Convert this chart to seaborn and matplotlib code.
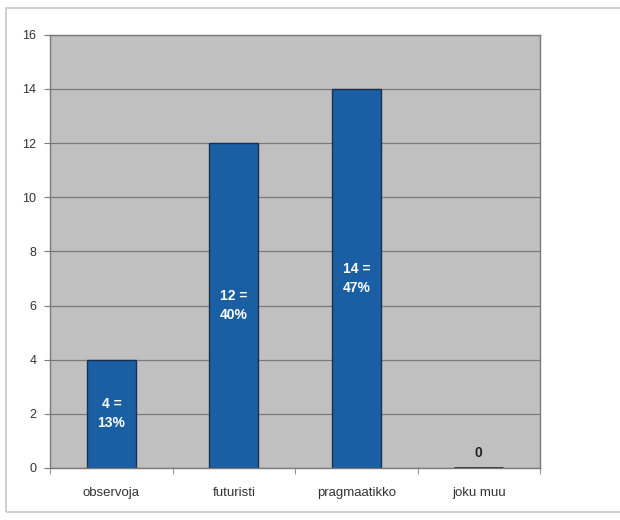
import matplotlib as mpl
import matplotlib.pyplot as plt
import pandas as pd
import seaborn as sns

categories = ["observoja", "futuristi", "pragmaatikko", "joku muu"]
counts = [4, 12, 14, 0]
percents = [13, 40, 47, 0]
y_ticks = [0, 2, 4, 6, 8, 10, 12, 14, 16]

sns.set_style("white")
plt.rcParams["font.family"] = ["Liberation Sans", "DejaVu Sans"]

df = pd.DataFrame({"Category": categories, "Count": counts})

fig = plt.figure(figsize=(6.2, 5.2), dpi=100)
ax = fig.add_axes([0.081, 0.1, 0.79, 0.833])
ax.set_facecolor("#c0c0c0")

sns.barplot(x="Category", y="Count", data=df, ax=ax, color="#1a5fa3",
            width=0.4, edgecolor="#1a3050", linewidth=1.0, saturation=1)

# the zero-height bar shows as a dark line on the baseline
for p, c in zip(ax.patches, counts):
    if c == 0:
        p.set_linewidth(2.0)
        p.set_edgecolor("#222222")

ax.set_ylim(0, 16)
ax.set_yticks(y_ticks)
ax.set_xlim(-0.5, 3.5)
ax.grid(axis="y", color="#7a7a7a", linewidth=0.9)
ax.set_axisbelow(True)
ax.set_xlabel("")
ax.set_ylabel("")

for side in ["top", "right", "left", "bottom"]:
    ax.spines[side].set_visible(True)
    ax.spines[side].set_color("#7a7a7a")
    ax.spines[side].set_linewidth(1.0)

ax.tick_params(axis="y", labelsize=9, length=4, color="#7a7a7a", left=True, pad=6, labelcolor="#333333")
ax.tick_params(axis="x", labelsize=9.5, length=0, pad=14, labelcolor="#333333")
# tick marks between categories
ax.set_xticks([-0.5, 0.5, 1.5, 2.5, 3.5], minor=True)
ax.tick_params(axis="x", which="minor", length=4, color="#7a7a7a", bottom=True)

for i, (c, p) in enumerate(zip(counts, percents)):
    if c > 0:
        ax.text(i, c / 2, f"{c} =\n{p}%", ha="center", va="center", color="white",
                fontsize=10, fontweight="bold", linespacing=1.45)
    else:
        ax.text(i, 0.55, f"{c}", ha="center", va="center", color="#222222",
                fontsize=10, fontweight="bold")

# outer frame of chart
fig.patches.append(mpl.patches.Rectangle((0.01, 0.015), 1.2, 0.97, transform=fig.transFigure,
                                         fill=False, edgecolor="#c8c8c8", linewidth=1.2))

plt.savefig("out.png", dpi=100)
